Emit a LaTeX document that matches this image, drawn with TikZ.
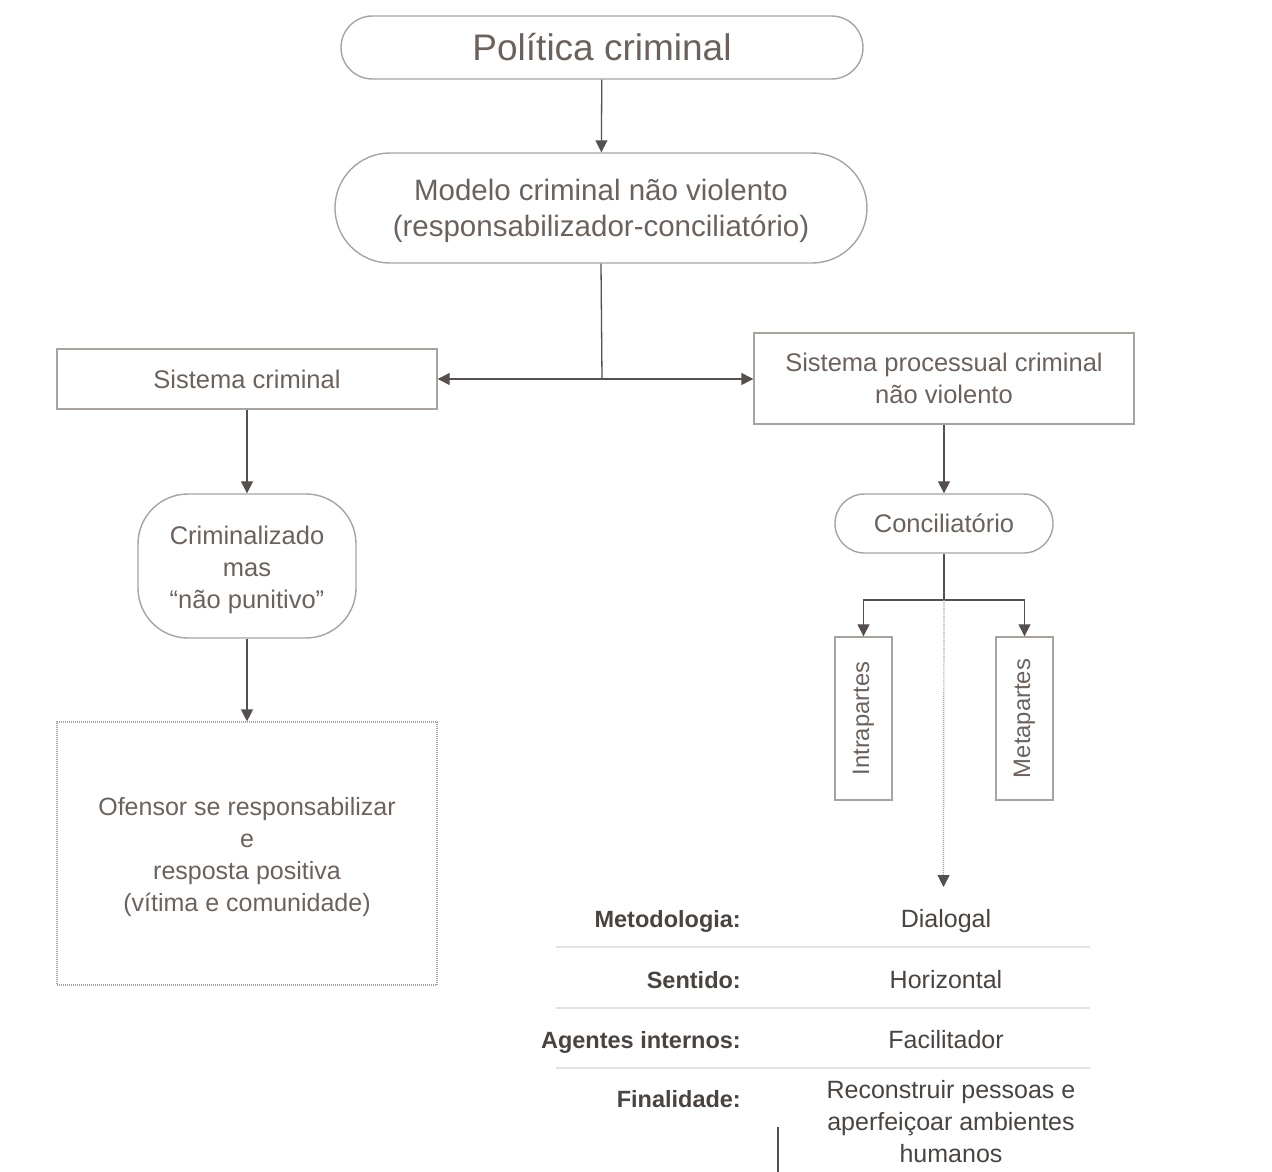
\documentclass[tikz,border=0pt]{standalone}
\usepackage{fontspec}
\setmainfont{Liberation Sans}
\usetikzlibrary{arrows.meta}
\definecolor{txt}{HTML}{6B625D}
\definecolor{dtxt}{HTML}{4A4441}
\definecolor{brd}{HTML}{A8A39F}
\definecolor{arrc}{HTML}{55504D}
\definecolor{sepc}{HTML}{E4E2E0}
\begin{document}
\begin{tikzpicture}[x=1pt,y=-1pt,
  box/.style={draw=brd, line width=1.4pt, text=txt, align=center, inner sep=0pt,
    font=\fontsize{25.5}{32}\selectfont},
  dotbox/.style={draw=brd, line width=1.2pt, dash pattern=on 1pt off 1pt, inner sep=0pt},
  btext/.style={text=txt, align=center, inner sep=0pt, font=\fontsize{25.5}{32}\selectfont},
  conn/.style={draw=arrc, line width=1.3pt},
  arr/.style={conn, -{Triangle[width=12pt,length=12pt]}},
  dotarr/.style={draw=brd, line width=1.2pt, dash pattern=on 1pt off 1pt,
    -{Triangle[width=12pt,length=12pt,color=arrc]}},
  lab/.style={anchor=base east, text=dtxt, inner sep=0pt, font=\fontsize{23.5}{30}\bfseries},
  val/.style={anchor=base, text=dtxt, align=center, inner sep=0pt, font=\fontsize{25}{32}\selectfont},
  sepline/.style={draw=sepc, line width=1.2pt}
]
\useasboundingbox (0,0) rectangle (1272,1172);

% main nodes
\node[box, minimum width=522pt, minimum height=63pt, rounded corners=31.5pt,
  font=\fontsize{37}{44}\selectfont] (pol) at (602,47.5) {Política criminal};
\node[box, minimum width=532pt, minimum height=110pt, rounded corners=55pt] (mod) at (601,208) {};
\node[btext, font=\fontsize{29.5}{36}\selectfont] (modt) at ([yshift=-3pt]mod.center) {Modelo criminal não violento\\(responsabilizador-conciliatório)};
\node[box, minimum width=380pt, minimum height=60pt] (sc) at (247,379) {Sistema criminal};
\node[box, minimum width=380pt, minimum height=91pt] (spc) at (944,378.5) {Sistema processual criminal\\não violento};
\node[box, minimum width=218pt, minimum height=144pt, rounded corners=50pt] (crim) at (247,566) {};
\node[btext] (crimt) at ([yshift=-4pt]crim.center) {Criminalizado\\mas\\“não punitivo”};
\node[dotbox, minimum width=380pt, minimum height=263pt] (ofe) at (247,853.5) {};
\node[btext, font=\fontsize{25}{32}\selectfont] (ofet) at ([yshift=-4pt]ofe.center) {Ofensor se responsabilizar\\e\\resposta positiva\\(vítima e comunidade)};
\node[box, minimum width=218pt, minimum height=59pt, rounded corners=29.5pt] (conc) at (944,523.5) {Conciliatório};
\node[box, rotate=90, minimum width=163pt, minimum height=57pt,
  font=\fontsize{23.8}{30}\selectfont] (intra) at (863.5,718.5) {Intrapartes};
\node[box, rotate=90, minimum width=163pt, minimum height=57pt,
  font=\fontsize{23.8}{30}\selectfont] (meta) at (1024.5,718.5) {Metapartes};

% connectors
\draw[arr] (pol) -- (mod);
\coordinate (j1) at (602,379);
\draw[conn] (mod.south) -- (j1);
\draw[arr] (j1) -- (sc.east |- j1);
\draw[arr] (j1) -- (spc.west |- j1);
\draw[arr] (sc) -- (crim);
\draw[arr] (crim) -- (ofe);
\draw[arr] (spc) -- (conc);
\coordinate (j2) at (944,600);
\draw[conn] (conc.south) -- (j2);
\draw[arr] (j2) -| (intra);
\draw[arr] (j2) -| (meta);
\coordinate (tabtop) at (943.5,887);
\draw[dotarr] (j2) -- (tabtop);

% table
\node[lab] (l1) at (741,927) {Metodologia:};
\node[lab] (l2) at (741,988) {Sentido:};
\node[lab] (l3) at (741,1048) {Agentes internos:};
\node[lab] (l4) at (741,1107) {Finalidade:};
\node[val] (v1) at (946,927) {Dialogal};
\node[val] (v2) at (946,988) {Horizontal};
\node[val] (v3) at (946,1048) {Facilitador};
\node[val, anchor=center] (v4) at (951,1122) {Reconstruir pessoas e\\aperfeiçoar ambientes\\humanos};
\draw[sepline] (556,947) -- (1090,947);
\draw[sepline] (556,1008) -- (1090,1008);
\draw[sepline] (556,1068) -- (1090,1068);
\draw[draw=arrc, line width=1.2pt] (778,1127) -- (778,1172);
\end{tikzpicture}
\end{document}
